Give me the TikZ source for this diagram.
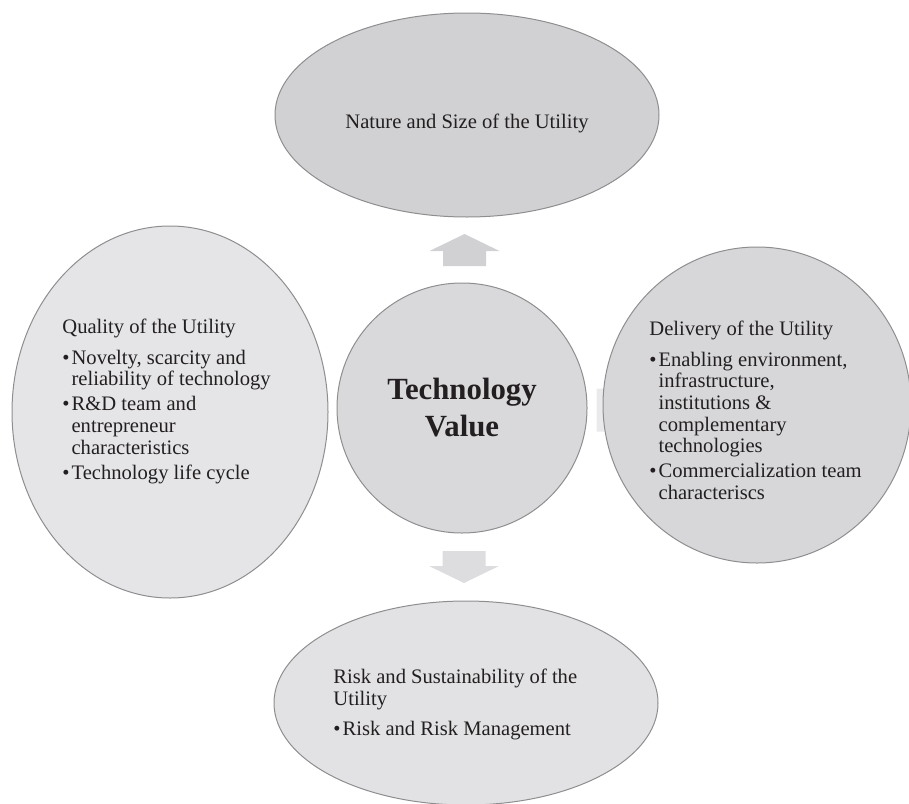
\documentclass[tikz,border=0pt]{standalone}
\usepackage{fontspec}
\setmainfont{Liberation Serif}
\usetikzlibrary{shapes.geometric,calc}

\definecolor{rimgray}{HTML}{8E8E90}
\definecolor{inkgray}{HTML}{231F20}
\definecolor{naturefill}{HTML}{D1D1D3}
\definecolor{qualityfill}{HTML}{E5E5E7}
\definecolor{deliveryfill}{HTML}{D7D7D9}
\definecolor{riskfill}{HTML}{E2E2E4}
\definecolor{corefill}{HTML}{D9D9DB}

% bullet and the indent of a wrapped bullet line
\newcommand{\bul}{\makebox[4.6pt][l]{\textbullet}}
\newcommand{\bulind}{\hspace*{4.6pt}}

\tikzset{
  blob/.style={ellipse, draw=rimgray, line width=0.5pt, inner sep=0pt},
  blurb/.style={anchor=north west, inner sep=0pt, align=left, text=inkgray,
    font=\fontsize{10.3}{10.85}\selectfont},
  blockarrow/.pic={
    \fill (0,-16) -- (35,1) -- (21.5,1) -- (21.5,16) -- (-21.5,16)
      -- (-21.5,1) -- (-35,1) -- cycle;
  }
}

\begin{document}
\begin{tikzpicture}[x=0.5pt,y=-0.5pt]
    \useasboundingbox (0,0) rectangle (909,803);

    % centre and the four ellipses round it
    \node[blob, circle, fill=corefill, minimum size=125pt] (tv) at (462,408) {};
    \node[blob, fill=naturefill, minimum width=192pt, minimum height=102pt] (nature) at (467,115) {};
    \node[blob, fill=qualityfill, minimum width=158pt, minimum height=186pt] (quality) at (170,412) {};
    \node[blob, fill=riskfill, minimum width=192pt, minimum height=102pt] (risk) at (466,703) {};

    % block arrows (the right one sits under its ellipse)
    \pic[fill=naturefill] at ($(nature.south)!0.5!(tv.north)$) {blockarrow};
    \pic[fill=riskfill!95!gray, rotate=180] at ($(tv.south)!0.5!(risk.north)$) {blockarrow};
    \pic[fill=qualityfill!80!white, rotate=-90] at ($(tv.east)+(25,2)$) {blockarrow};

    \node[blob, fill=deliveryfill, minimum width=154pt, minimum height=158pt] (delivery) at (757,405) {};

    % texts
    \node[text=inkgray, anchor=base, font=\fontsize{10.3}{10.85}\selectfont] (naturetext) at (467,128)
        {Nature and Size of the Utility};
    \node[text=inkgray, align=center, font=\fontsize{15.4}{18.5}\selectfont\bfseries] (tvtext) at (tv)
        {Technology\\Value};
    \node[blurb] (qualitytext) at (62,319) {Quality of the Utility\\[4.2pt]
        \bul Novelty, scarcity and\\
        \bulind reliability of technology\\[1.7pt]
        \bul R\&D team and\\
        \bulind entrepreneur\\
        \bulind characteristics\\[1.7pt]
        \bul Technology life cycle};
    \node[blurb] (deliverytext) at (649,321) {Delivery of the Utility\\[4.2pt]
        \bul Enabling environment,\\
        \bulind infrastructure,\\
        \bulind institutions \&\\
        \bulind complementary\\
        \bulind technologies\\[1.7pt]
        \bul Commercialization team\\
        \bulind characteriscs};
    \node[blurb] (risktext) at (333,669) {Risk and Sustainability of the\\
        Utility\\[4.2pt]
        \bul Risk and Risk Management};
\end{tikzpicture}
\end{document}
